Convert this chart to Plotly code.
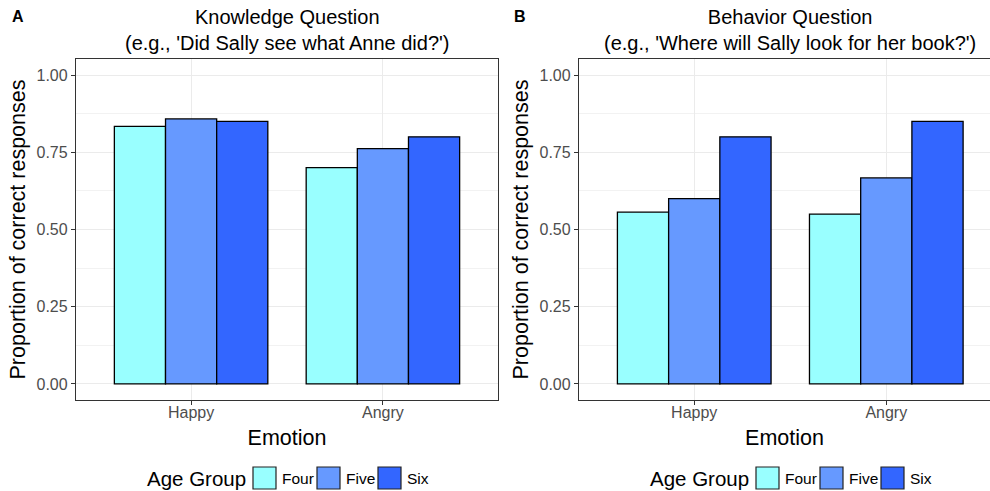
import plotly.graph_objects as go

emotions = ["Happy", "Angry"]
age_groups = ["Four", "Five", "Six"]
colors = ["#99FFFF", "#6699FF", "#3366FF"]

knowledge = {
    "Four": [0.834, 0.700],
    "Five": [0.858, 0.762],
    "Six": [0.850, 0.800],
}
behavior = {
    "Four": [0.556, 0.550],
    "Five": [0.600, 0.667],
    "Six": [0.800, 0.850],
}
chance_level = 0.5

W, H = 990, 491
FONT = "Liberation Sans, Arial, Helvetica, sans-serif"

fig = go.Figure()

panels = [(knowledge, "x", "y"), (behavior, "x2", "y2")]
for data, xa, ya in panels:
    for g, c in zip(age_groups, colors):
        fig.add_trace(go.Bar(
            x=emotions, y=data[g], name=g,
            marker=dict(color=c, line=dict(color="black", width=1.3)),
            xaxis=xa, yaxis=ya, showlegend=False, offsetgroup=g,
        ))
    fig.add_trace(go.Scatter(
        x=[-0.6, 1.7], y=[chance_level, chance_level], mode="lines", xaxis=xa, yaxis=ya,
        line=dict(color="#E8202A", dash="dash", width=1.3), showlegend=False, hoverinfo="skip",
    ))

ydom = [(H - 400) / H, (H - 59) / H]
axcommon = dict(gridcolor="#EBEBEB", gridwidth=1.1, ticks="outside", ticklen=4, tickcolor="#333333",
                tickfont=dict(size=16, color="#4D4D4D", family=FONT), linecolor="#333333", linewidth=1.3,
                showline=True, zeroline=False, automargin=False)

yax = dict(axcommon, range=[-0.052, 1.052], tickvals=[0, 0.25, 0.5, 0.75, 1.0], tickformat=".2f",
           minor=dict(tickvals=[0.125, 0.375, 0.625, 0.875], showgrid=True, gridcolor="#F2F2F2",
                      gridwidth=0.6, ticks=""),
           title=dict(text="Proportion of correct responses",
                      font=dict(size=21.5, color="black", family=FONT), standoff=4),
           domain=ydom)
xtitle = dict(text="Emotion", font=dict(size=21.5, color="black", family=FONT), standoff=9)

fig.update_layout(
    width=W, height=H, margin=dict(l=0, r=0, t=0, b=0, autoexpand=False),
    plot_bgcolor="white", paper_bgcolor="white",
    font=dict(family=FONT),
    barmode="group", bargap=0.2, bargroupgap=0,
    xaxis=dict(axcommon, domain=[76 / W, 498 / W], range=[-0.6, 1.6], mirror=True, anchor="y",
               title=xtitle, ticklabelstandoff=-6),
    yaxis=dict(yax, anchor="x", mirror=True),
    xaxis2=dict(axcommon, domain=[579 / W, 1.0], range=[-0.6, 1.54], mirror=True, anchor="y2",
                title=xtitle, ticklabelstandoff=-6),
    yaxis2=dict(yax, anchor="x2", mirror=False),
    showlegend=False,
)

def px(x):
    return x / W

def py(y):
    return (H - y) / H

annos = [
    dict(text="<b>A</b>", x=px(18), y=py(17), font=dict(size=16, color="black")),
    dict(text="<b>B</b>", x=px(520), y=py(17), font=dict(size=16, color="black")),
    dict(text="Knowledge Question<br>(e.g., 'Did Sally see what Anne did?')", x=px(287), y=py(30),
         font=dict(size=20, color="black")),
    dict(text="Behavior Question<br>(e.g., 'Where will Sally look for her book?')", x=px(790), y=py(30),
         font=dict(size=20, color="black")),
]
for a in annos:
    fig.add_annotation(xref="paper", yref="paper", showarrow=False, xanchor="center", yanchor="middle",
                       font_family=FONT, **a)

# manual legends (one under each panel)
legend_title_x = 145
box_x = [253, 317, 378]
label_x = [280, 344, 405]
panel_offsets = [0, 503]
for off in panel_offsets:
    fig.add_annotation(xref="paper", yref="paper", showarrow=False, xanchor="left", yanchor="middle",
                       x=px(legend_title_x + off), y=py(478), text="Age Group",
                       font=dict(size=20.5, color="black", family=FONT))
    for g, c, bx, lx in zip(age_groups, colors, box_x, label_x):
        fig.add_shape(type="rect", xref="paper", yref="paper",
                      x0=px(bx + off), x1=px(bx + off + 23), y0=py(467), y1=py(489),
                      fillcolor=c, line=dict(color="#222222", width=1.2))
        fig.add_annotation(xref="paper", yref="paper", showarrow=False, xanchor="left", yanchor="middle",
                           x=px(lx + off), y=py(478), text=g,
                           font=dict(size=15.5, color="black", family=FONT))

fig.write_html("out.html", config={"displayModeBar": False},
               post_script="document.body.style.margin='0px';document.body.style.overflow='hidden';")
